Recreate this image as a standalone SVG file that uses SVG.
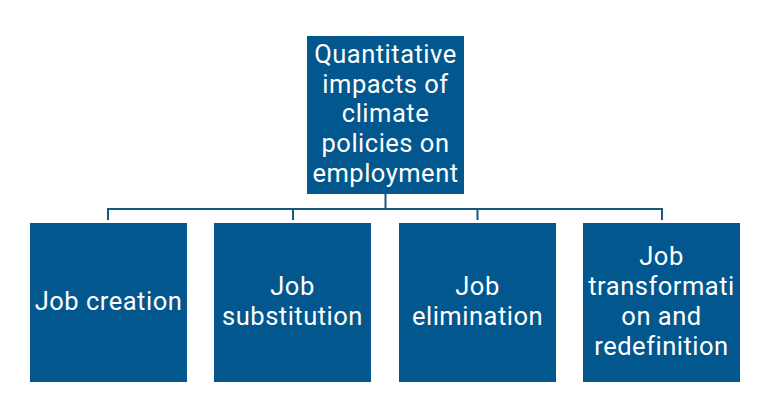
<svg xmlns="http://www.w3.org/2000/svg" width="772" height="403" viewBox="0 0 772 403">
<style>
.box{fill:#02578F;}
.lbl{fill:#FFFFFF;font-family:Roboto,"Liberation Sans",sans-serif;font-size:25.5px;letter-spacing:0.5px;text-anchor:middle;}
.conn{stroke:#145B7B;stroke-width:2;fill:none;}
</style>
<rect width="772" height="403" fill="#FFFFFF"/>
<g id="connectors">
<path class="conn" d="M385.5 194V209M108 220V209H662V220M293 209V220M477.5 209V220"/>
</g>
<g id="root">
<rect class="box" x="307" y="36" width="157" height="158"/>
<text class="lbl"><tspan x="385.5" y="63">Quantitative</tspan><tspan x="385.5" y="93">impacts of</tspan><tspan x="385.5" y="122">climate</tspan><tspan x="385.5" y="152">policies on</tspan><tspan x="385.5" y="182">employment</tspan></text>
</g>
<g id="job-creation">
<rect class="box" x="30" y="223" width="157" height="159"/>
<text class="lbl" x="108.5" y="309.5">Job creation</text>
</g>
<g id="job-substitution">
<rect class="box" x="214" y="223" width="157" height="159"/>
<text class="lbl"><tspan x="292.5" y="295">Job</tspan><tspan x="292.5" y="325">substitution</tspan></text>
</g>
<g id="job-elimination">
<rect class="box" x="399" y="223" width="157" height="159"/>
<text class="lbl"><tspan x="477.5" y="295">Job</tspan><tspan x="477.5" y="325">elimination</tspan></text>
</g>
<g id="job-transformation">
<rect class="box" x="583" y="223" width="157" height="159"/>
<text class="lbl"><tspan x="661.5" y="265">Job</tspan><tspan x="661.5" y="295">transformati</tspan><tspan x="661.5" y="325">on and</tspan><tspan x="661.5" y="355">redefinition</tspan></text>
</g>
</svg>
